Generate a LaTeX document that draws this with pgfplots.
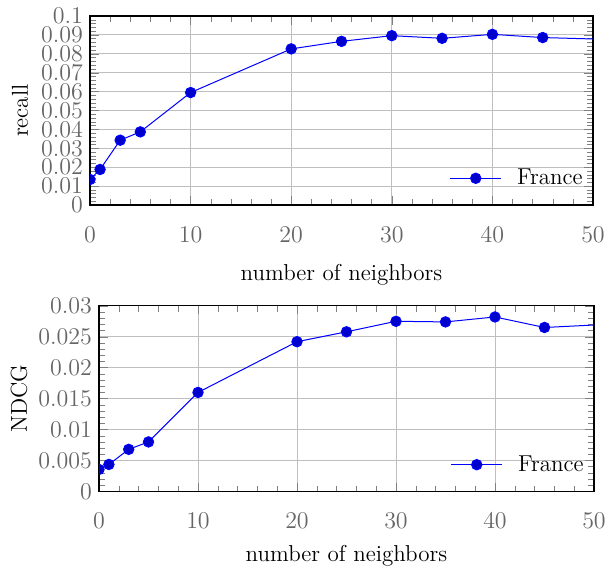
\documentclass[border=0pt]{standalone}
\usepackage{pgfplots}
\pgfplotsset{compat=1.18}
\begin{document}
\begin{tikzpicture}
\pgfplotsset{
  myax/.style={
    scale only axis,
    font=\fontsize{11.5}{14}\selectfont,
    xmin=0, xmax=50,
    xtick={0,10,20,30,40,50},
    minor x tick num=4,
    minor y tick num=4,
    grid=major,
    major grid style={black!25, line width=0.5pt},
    axis line style={line width=0.6pt},
    tick label style={text=black!60},
    xticklabel style={yshift=-7.5pt},
    scaled y ticks=false,
    yticklabel style={/pgf/number format/fixed, /pgf/number format/precision=3},
    clip marker paths=true,
    legend style={draw=none, fill=none, at={(1,0)}, anchor=south east, yshift=4.5pt, legend cell align=left},
    legend image code/.code={\draw[mark repeat=2,mark phase=2] plot coordinates {(0cm,0cm)(0.45cm,0cm)(0.9cm,0cm)}; \path (1.1cm,0cm);},
    every axis plot/.append style={blue, line width=0.5pt, mark=*, mark size=2.6pt, mark options={solid, fill=blue}},
  }
}
\path[use as bounding box] (0,0) rectangle (304.5pt,-285pt);

\begin{axis}[myax,
  at={(45pt,-102.5pt)}, anchor=south west,
  width=251.5pt, height=94.5pt,
  ymin=0, ymax=0.1,
  ytick={0,0.01,0.02,0.03,0.04,0.05,0.06,0.07,0.08,0.09,0.1},
  ylabel={recall},
  ylabel style={at={(axis description cs:-0.1233,0.5)}, anchor=base},
  xlabel={number of neighbors},
  xlabel style={at={(axis description cs:0.5,-0.397)}, anchor=base},
]
\addplot coordinates {(0,0.0135)(1,0.0188)(3,0.0343)(5,0.0387)(10,0.0595)(20,0.0826)(25,0.0866)(30,0.0896)(35,0.0882)(40,0.0903)(45,0.0886)(55,0.0871)};
\addlegendentry{France}
\end{axis}

\begin{axis}[myax,
  at={(49.5pt,-245.7pt)}, anchor=south west,
  width=247.5pt, height=92.8pt,
  ymin=0, ymax=0.03,
  ytick={0,0.005,0.01,0.015,0.02,0.025,0.03},
  ylabel={NDCG},
  ylabel style={at={(axis description cs:-0.1455,0.5)}, anchor=base},
  xlabel={number of neighbors},
  xlabel style={at={(axis description cs:0.5,-0.377)}, anchor=base},
]
\addplot coordinates {(0,0.00355)(1,0.00436)(3,0.0068)(5,0.008)(10,0.016)(20,0.0242)(25,0.0258)(30,0.0275)(35,0.0274)(40,0.0282)(45,0.0265)(55,0.0273)};
\addlegendentry{France}
\end{axis}
\end{tikzpicture}
\end{document}
